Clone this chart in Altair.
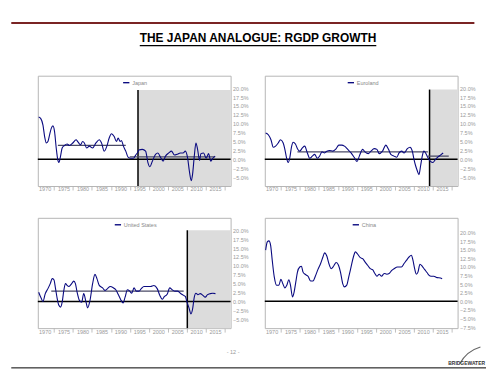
import altair as alt
import pandas as pd

# ---------------- data ----------------
title_text = "THE JAPAN ANALOGUE: RGDP GROWTH"
page_label = "- 12 -"
logo_text = "BRIDGEWATER"

x_labels = [1970, 1975, 1980, 1985, 1990, 1995, 2000, 2005, 2010, 2015]
x_domain = [1968.2, 2019.1]

y_ticks_main = [-5, -2.5, 0, 2.5, 5, 7.5, 10, 12.5, 15, 17.5, 20]
y_ticks_china = [-7.5, -5, -2.5, 0, 2.5, 5, 7.5, 10, 12.5, 15, 17.5, 20]
y_domain_main = [-7.5, 23.5]
y_domain_china = [-7.8, 24.3]

japan_year = [1968.43, 1968.95, 1969.56, 1970.0, 1970.44, 1970.87, 1971.31, 1971.75, 1972.19, 1972.62,
              1973.06, 1973.5, 1973.76, 1974.2, 1974.63, 1975.24, 1975.94, 1976.56, 1977.43, 1978.3,
              1978.74, 1979.44, 1980.05, 1980.49, 1981.1, 1981.8, 1982.67, 1983.55, 1984.42, 1985.03,
              1985.73, 1986.43, 1987.05, 1987.66, 1988.36, 1988.97, 1989.41, 1989.93, 1990.28, 1990.8,
              1991.42, 1992.03, 1992.73, 1993.43, 1994.04, 1994.48, 1994.91, 1995.79, 1996.66, 1997.27,
              1997.8, 1998.41, 1999.28, 1999.9, 2000.59, 2001.29, 2001.91, 2002.78, 2003.48, 2004.27,
              2004.97, 2005.84, 2006.54, 2007.15, 2007.76, 2008.2, 2008.72, 2009.07, 2009.51, 2009.95,
              2010.38, 2010.91, 2011.26, 2011.96, 2012.66, 2013.27, 2013.88, 2014.41, 2015.02]
japan_val = [11.9, 11.5, 9.6, 6.4, 4.6, 5.0, 6.9, 8.7, 9.4, 7.8,
             3.2, -0.3, -0.9, 0.9, 3.2, 3.9, 4.3, 3.9, 4.6, 5.5,
             5.0, 4.1, 5.0, 4.6, 3.2, 3.7, 3.2, 4.6, 5.5, 4.6,
             2.3, 3.7, 6.0, 7.2, 6.4, 5.0, 6.0, 5.0, 5.3, 3.7,
             2.3, 0.6, 0.3, 0.3, 1.2, 1.8, 2.6, 2.8, 2.3, -0.9,
             -2.1, -0.6, 1.4, 1.8, 0.6, -0.5, 0.9, 1.8, 2.3, 1.2,
             1.4, 1.8, 1.8, 2.3, 0.3, -3.2, -6.0, -4.1, 0.9, 4.6,
             2.8, -0.3, 1.6, 1.8, 0.3, 1.6, -0.5, 0.3, 0.9]

euro_year = [1968.43, 1969.13, 1969.83, 1970.44, 1971.05, 1971.75, 1972.36, 1973.06, 1973.5, 1973.93,
             1974.37, 1974.81, 1975.24, 1975.68, 1976.29, 1976.82, 1977.43, 1978.13, 1978.74, 1979.44,
             1980.05, 1980.75, 1981.36, 1982.06, 1982.67, 1983.29, 1983.99, 1984.6, 1985.3, 1986.17,
             1987.05, 1987.74, 1988.53, 1989.23, 1990.1, 1990.98, 1991.85, 1992.55, 1993.16, 1994.04,
             1994.65, 1995.52, 1996.22, 1997.1, 1997.8, 1998.41, 1999.28, 2000.16, 2000.86, 2001.47,
             2002.34, 2003.04, 2003.65, 2004.35, 2004.97, 2005.84, 2006.54, 2007.15, 2007.59, 2008.02,
             2008.46, 2008.9, 2009.34, 2009.77, 2010.21, 2010.65, 2011.08, 2011.52, 2011.96, 2012.57,
             2013.27, 2013.88, 2014.58, 2015.28]
euro_val = [7.4, 6.9, 5.5, 3.4, 3.7, 4.6, 5.5, 4.6, 2.8, 0.5,
            -0.9, 0.5, 3.4, 4.8, 4.3, 3.0, 2.3, 3.2, 3.7, 1.8,
            0.3, 0.9, 1.4, 0.3, 0.9, 2.1, 1.8, 2.3, 2.5, 2.3,
            3.0, 4.0, 4.0, 3.7, 2.8, 1.8, 0.5, -0.6, 0.9, 2.8,
            2.1, 1.6, 2.3, 3.0, 2.8, 1.6, 2.3, 4.0, 2.8, 1.4,
            0.9, 0.6, 1.8, 2.3, 1.8, 3.0, 3.4, 2.3, 0.0, -1.8,
            -3.2, -4.3, -1.8, 0.9, 2.3, 1.8, 0.9, 0.0, -0.6, -0.9,
            0.0, 0.6, 1.2, 1.8]

us_year = [1968.43, 1969.13, 1969.56, 1970.17, 1970.87, 1971.49, 1972.01, 1972.45, 1972.88, 1973.32,
           1973.76, 1974.2, 1974.63, 1975.07, 1975.51, 1975.94, 1976.38, 1976.99, 1977.69, 1978.13,
           1978.57, 1979.18, 1979.79, 1980.31, 1980.93, 1981.36, 1981.98, 1982.67, 1983.29, 1983.81,
           1984.42, 1985.3, 1985.91, 1986.61, 1987.31, 1988.18, 1988.79, 1989.41, 1990.1, 1990.72,
           1991.24, 1991.85, 1992.47, 1992.99, 1993.6, 1994.21, 1994.91, 1995.52, 1996.22, 1997.1,
           1997.97, 1998.85, 1999.72, 2000.42, 2001.03, 2001.64, 2002.34, 2003.04, 2003.65, 2004.35,
           2005.14, 2005.84, 2006.71, 2007.15, 2007.59, 2008.11, 2008.64, 2009.07, 2009.51, 2009.95,
           2010.47, 2011.08, 2011.78, 2012.4, 2013.01, 2013.71, 2014.41, 2015.1]
us_val = [2.6, 0.8, 0.0, 2.2, 3.6, 5.0, 6.4, 6.1, 3.6, 0.8,
          -1.1, -1.6, -0.2, 3.1, 5.0, 4.5, 4.2, 4.8, 5.7, 5.0,
          2.6, 0.3, -0.2, 2.2, -0.2, -1.8, 0.3, 5.0, 7.6, 6.4,
          4.5, 3.8, 3.1, 3.6, 4.2, 3.8, 3.3, 2.0, 0.5, -0.4,
          1.2, 3.3, 2.9, 2.3, 3.8, 2.9, 2.9, 3.6, 4.2, 4.2,
          4.2, 4.5, 3.6, 1.7, 0.6, 1.4, 2.0, 3.8, 3.3, 2.9,
          2.9, 2.3, 1.7, 1.4, -0.2, -1.8, -3.5, -2.1, 1.2, 2.3,
          1.9, 2.2, 1.7, 1.2, 1.9, 2.2, 2.3, 2.2]

china_year = [1968.43, 1968.86, 1969.3, 1969.74, 1970.17, 1970.7, 1971.31, 1971.92, 1972.45, 1972.97,
              1973.5, 1974.02, 1974.55, 1974.98, 1975.51, 1975.94, 1976.38, 1976.82, 1977.43, 1977.87,
              1978.3, 1978.92, 1979.62, 1980.31, 1980.93, 1981.54, 1982.24, 1982.94, 1983.55, 1983.99,
              1984.6, 1985.12, 1985.73, 1986.35, 1987.05, 1987.66, 1988.18, 1988.79, 1989.23, 1989.84,
              1990.37, 1990.98, 1991.59, 1992.12, 1992.73, 1993.43, 1994.04, 1994.65, 1995.35, 1996.05,
              1996.66, 1997.27, 1997.8, 1998.41, 1999.02, 1999.72, 2000.42, 2001.03, 2001.73, 2002.34,
              2003.22, 2004.27, 2004.97, 2005.58, 2006.28, 2006.89, 2007.33, 2007.76, 2008.2, 2008.64,
              2009.16, 2009.77, 2010.38, 2011.08, 2011.52, 2012.13, 2012.83, 2013.71, 2014.58, 2015.02]
china_val = [14.9, 17.3, 17.6, 16.3, 11.9, 7.1, 4.7, 4.7, 6.4, 5.1,
             3.9, 4.7, 6.3, 4.7, 1.3, 2.7, 5.6, 8.5, 10.0, 10.2,
             8.5, 7.8, 7.3, 5.9, 5.9, 7.3, 9.3, 11.0, 12.9, 14.1,
             13.1, 11.0, 9.5, 10.2, 11.3, 10.5, 8.5, 5.1, 4.2, 4.7,
             7.1, 10.0, 12.9, 14.4, 13.7, 12.7, 12.4, 11.5, 10.5, 9.5,
             9.2, 8.1, 7.3, 7.9, 7.3, 8.1, 7.9, 8.1, 9.0, 9.5,
             10.0, 10.0, 11.0, 11.9, 12.9, 13.4, 11.9, 9.5, 7.9, 8.5,
             10.8, 10.2, 9.3, 8.3, 7.6, 7.3, 7.3, 6.9, 6.8, 6.6]

# break year (start of shaded period), top of shading, period averages
japan_break, japan_shade_top = 1994.65, 19.5
euro_break, euro_shade_top = 2011.7, 19.6
us_break, us_shade_top = 2007.67, 20.0

japan_avg_start, japan_avg_end, japan_avg_val = [1973.5, 1992.47], [1991.42, 2015.0], [3.9, 0.7]
euro_avg_start, euro_avg_end, euro_avg_val = [1976.82, 2011.26], [2011.26, 2016.77], [2.1, 0.9]
us_avg_start, us_avg_end, us_avg_val = [1971.75], [2006.71], [2.9]

# ---------------- styling ----------------
W, H = 194, 111
NAVY = "#0a0a80"
AVG = "#4a4a66"
SHADE = "#dcdcdc"
FRAME = "#b5b5b5"
TICKTXT = "#9a9a9a"
FONT = "Liberation Sans"
EXT = 26.7  # left extent so that panels line up with the header/footer


def panel(name, years, vals, ydom, yticks, legend_x, brk=None, top=None,
          avg=None, left=False):
    xs = alt.Scale(domain=x_domain, nice=False, zero=False)
    ys = alt.Scale(domain=ydom, nice=False, zero=False)
    xaxis = alt.Axis(values=x_labels, format="d", grid=False, domain=False,
                     tickOffset=9.5, labelOffset=-9.5, tickSize=4, tickColor="#b0b0b0",
                     tickWidth=0.8, labelFontSize=5.5, labelColor=TICKTXT, labelFont=FONT,
                     labelPadding=-3, labelFlush=False, labelOverlap=False, title=None)
    yaxis = alt.Axis(orient="right", values=yticks,
                     labelExpr="format(datum.value, '.1f') + '%'", grid=False,
                     domain=False, ticks=False, labelPadding=2, labelFontSize=5.5,
                     labelColor=TICKTXT, labelFont=FONT, title=None)

    def X(f):
        return alt.X(f, type="quantitative", scale=xs, axis=xaxis)

    def Y(f):
        return alt.Y(f, type="quantitative", scale=ys, axis=yaxis)

    layers = []
    if brk is not None:
        sh = pd.DataFrame({"x": [brk], "x2": [x_domain[1]], "y": [top], "y2": [ydom[0]]})
        layers.append(alt.Chart(sh).mark_rect(color=SHADE).encode(
            x=X("x"), x2="x2", y=Y("y"), y2="y2"))
        layers.append(alt.Chart(sh).mark_rule(color="black", strokeWidth=1.5).encode(
            x=X("x"), y=Y("y"), y2="y2"))
    zero = pd.DataFrame({"v": [0]})
    layers.append(alt.Chart(zero).mark_rule(color="black", strokeWidth=1.5).encode(y=Y("v")))
    if avg is not None:
        a = pd.DataFrame({"s": avg[0], "e": avg[1], "v": avg[2]})
        layers.append(alt.Chart(a).mark_rule(color=AVG, strokeWidth=1.3).encode(
            x=X("s"), x2="e", y=Y("v")))
    df = pd.DataFrame({"year": years, "value": vals, "series": name})
    layers.append(alt.Chart(df).mark_line(strokeWidth=1.1, interpolate="monotone").encode(
        x=X("year"), y=Y("value"),
        color=alt.Color("series:N", scale=alt.Scale(range=[NAVY]),
                        legend=alt.Legend(orient="none", legendX=legend_x, legendY=3,
                                          title=None, symbolType="stroke", symbolSize=40,
                                          symbolStrokeWidth=1.4, labelFontSize=5.5,
                                          labelColor="#888", labelFont=FONT,
                                          labelOffset=2, padding=0))))
    if left:
        one = pd.DataFrame({"t": [0]})
        layers.append(alt.Chart(one).mark_rule(opacity=0).encode(
            x=alt.value(-EXT), x2=alt.value(-EXT), y=alt.value(0), y2=alt.value(H)))
    return alt.layer(*layers).properties(
        width=W, height=H, view=alt.ViewBackground(stroke=FRAME, strokeWidth=1))


p1 = panel("Japan", japan_year, japan_val, y_domain_main, y_ticks_main, 85,
           japan_break, japan_shade_top, (japan_avg_start, japan_avg_end, japan_avg_val), left=True)
p2 = panel("Euroland", euro_year, euro_val, y_domain_main, y_ticks_main, 82.6,
           euro_break, euro_shade_top, (euro_avg_start, euro_avg_end, euro_avg_val))
p3 = panel("United States", us_year, us_val, y_domain_main, y_ticks_main, 76.6,
           us_break, us_shade_top, (us_avg_start, us_avg_end, us_avg_val), left=True)
p4 = panel("China", china_year, china_val, y_domain_china, y_ticks_china, 87.6)

one = pd.DataFrame({"t": [0]})
NOFRAME = alt.ViewBackground(stroke="transparent", strokeWidth=0)

# header: red rule, underlined title
HW, HH = 440, 53.3
header = alt.layer(
    alt.Chart(one).mark_rule(color="#7a2424", strokeWidth=2).encode(
        x=alt.value(-EXT), x2=alt.value(439.3), y=alt.value(2)),
    alt.Chart(one).mark_text(fontSize=12, fontWeight="bold", font=FONT, align="center",
                             baseline="alphabetic", color="black").encode(
        x=alt.value(221.6), y=alt.value(21), text=alt.value(title_text)),
    alt.Chart(one).mark_rule(color="black", strokeWidth=1.3).encode(
        x=alt.value(102.6), x2=alt.value(340.6), y=alt.value(24.8)),
).properties(width=HW, height=HH, view=NOFRAME)

# footer: page number, logo (swoosh + word mark), bottom rule
FW, FH = 451, 34
footer = alt.layer(
    alt.Chart(one).mark_rule(color="black", strokeWidth=1).encode(
        x=alt.value(-EXT), x2=alt.value(451), y=alt.value(33)),
    alt.Chart(one).mark_text(fontSize=5.5, font=FONT, align="center", color="#999").encode(
        x=alt.value(196.5), y=alt.value(17), text=alt.value(page_label)),
    alt.Chart(one).mark_arc(color="#666", radius=35, radius2=33.8, theta=5.2,
                            theta2=6.0).encode(x=alt.value(455), y=alt.value(45)),
    alt.Chart(one).mark_text(fontSize=5, fontWeight="bold", font=FONT, align="right",
                             color="#333").encode(
        x=alt.value(450), y=alt.value(28), text=alt.value(logo_text)),
).properties(width=FW, height=FH, view=NOFRAME)

row1 = alt.hconcat(p1, p2, spacing=13.4).resolve_scale(color="independent")
row2 = alt.hconcat(p3, p4, spacing=13.4).resolve_scale(color="independent")
grid = alt.vconcat(row1, row2, spacing=24).resolve_scale(color="independent")

chart = alt.vconcat(header, grid, footer, spacing=0).resolve_scale(
    color="independent"
).properties(
    padding={"left": 2, "top": 12, "right": 0, "bottom": 0}
).configure_view(strokeWidth=0).configure(background="white")

chart.save("out.html", embed_options={"renderer": "svg", "actions": False})
